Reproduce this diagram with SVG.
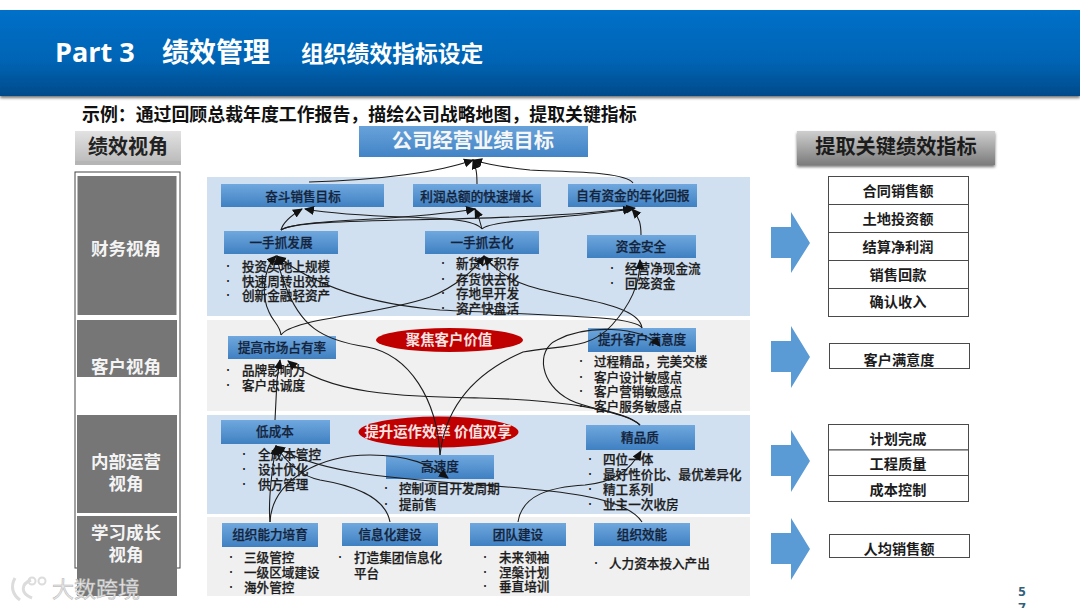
<svg xmlns="http://www.w3.org/2000/svg" width="1080" height="608" viewBox="0 0 1080 608">
<defs>
<linearGradient id="hdr" x1="0" y1="0" x2="0" y2="1"><stop offset="0" stop-color="#0070c9"/><stop offset=".6" stop-color="#0064b4"/><stop offset="1" stop-color="#004a8a"/></linearGradient>
<linearGradient id="nodeG" x1="0" y1="0" x2="0" y2="1"><stop offset="0" stop-color="#70a8de"/><stop offset="1" stop-color="#3f80c2"/></linearGradient>
<linearGradient id="topG" x1="0" y1="0" x2="0" y2="1"><stop offset="0" stop-color="#68a2da"/><stop offset="1" stop-color="#4284c6"/></linearGradient>
<linearGradient id="grayA" x1="0" y1="0" x2="0" y2="1"><stop offset="0" stop-color="#e2e2e2"/><stop offset="1" stop-color="#bdbdbd"/></linearGradient>
<linearGradient id="grayB" x1="0" y1="0" x2="0" y2="1"><stop offset="0" stop-color="#cfcfcf"/><stop offset="1" stop-color="#7b7b7b"/></linearGradient>
<filter id="sh" x="-5%" y="-10%" width="110%" height="125%"><feDropShadow dx="0" dy="2" stdDeviation="1.5" flood-color="#000" flood-opacity=".55"/></filter>
<marker id="ah" markerUnits="userSpaceOnUse" markerWidth="11" markerHeight="10" refX="9" refY="5" orient="auto"><path d="M0 .5L10 5L0 9.500Z" fill="#111"/></marker>
</defs>
<style>
text{font-family:"Noto Sans CJK SC","Liberation Sans",sans-serif}
.band1{fill:#d1e0f0}.band2{fill:#f0f0f0}
.n{fill:url(#nodeG)}
.lb{font-size:12.6px;font-weight:500;fill:#14233a;text-anchor:middle;stroke:#14233a;stroke-width:.25}
.li{font-size:12.6px;font-weight:500;fill:#1c1c1c;stroke:#1c1c1c;stroke-width:.25}
.bu{font-size:9px;fill:#111;text-anchor:middle}
.side{fill:#767676}
.st{font-size:17.5px;font-weight:700;fill:#f4f4f4;text-anchor:middle}
.el{fill:#c00000}
.et{font-size:14.400px;font-weight:700;fill:#fbe4e4;text-anchor:middle}
.cell{fill:#fff;stroke:#4a4a4a;stroke-width:1}
.kt{font-size:14.2px;font-weight:700;fill:#1c1c1c;text-anchor:middle}
.arr{fill:#5b9bd5}
.c{fill:none;stroke:#1d1d1d;stroke-width:1.1;marker-end:url(#ah)}
</style>
<rect width="1080" height="608" fill="#fff"/>
<rect id="header" x="0" y="10" width="1080" height="86" fill="url(#hdr)" filter="url(#sh)"/>
<text x="55" y="62" font-size="27" font-weight="700" fill="#fff" style="font-family:'Open Sans','Noto Sans',sans-serif">Part 3</text>
<text x="162" y="62" font-size="27" font-weight="700" fill="#fff">绩效管理</text>
<text x="301" y="62" font-size="22.800" font-weight="700" fill="#fff">组织绩效指标设定</text>
<text x="82" y="121" font-size="17.900" font-weight="700" fill="#111">示例：通过回顾总裁年度工作报告，描绘公司战略地图，提取关键指标</text>

<g id="bands">
<rect class="band1" x="207" y="177" width="543" height="139"/>
<rect class="band2" x="207" y="320" width="543" height="91"/>
<rect class="band1" x="207" y="415" width="543" height="99"/>
<rect class="band2" x="207" y="517" width="543" height="79"/>
</g>

<g id="perspective-title"><rect x="75" y="131" width="106" height="34" fill="#b5b5b5"/><rect x="75" y="131" width="106" height="30" fill="url(#grayA)"/><text x="128" y="154" font-size="20" font-weight="700" fill="#222" text-anchor="middle">绩效视角</text></g>
<rect x="75" y="172" width="105" height="396" fill="#fff" stroke="#444" stroke-width="1"/>
<g id="p-finance"><rect class="side" x="77.500" y="176" width="99" height="139"/><text class="st" x="126" y="255">财务视角</text></g>
<g id="p-customer"><rect class="side" x="77" y="320" width="100" height="57"/><text class="st" x="126" y="372.500">客户视角</text></g>
<g id="p-internal"><rect class="side" x="77" y="415" width="100" height="98"/><text class="st" x="126" y="468">内部运营</text><text class="st" x="126" y="490">视角</text></g>
<g id="p-learning"><rect class="side" x="77" y="516" width="100" height="80"/><text class="st" x="126" y="539">学习成长</text><text class="st" x="126" y="561">视角</text></g>

<g id="n-top"><rect x="359" y="126" width="229" height="31" fill="url(#topG)"/><text x="473" y="148" font-size="20.300" font-weight="700" fill="#f6f6f6" text-anchor="middle">公司经营业绩目标</text></g>
<g id="n1"><rect class="n" x="221" y="184" width="163" height="23"/><text class="lb" x="303" y="200.500">奋斗销售目标</text></g>
<g id="n2"><rect class="n" x="413" y="184" width="128" height="23"/><text class="lb" x="477" y="200.500">利润总额的快速增长</text></g>
<g id="n3"><rect class="n" x="568" y="184" width="129" height="23"/><text class="lb" x="633" y="199.500">自有资金的年化回报</text></g>
<g id="n4"><rect class="n" x="224" y="231" width="114" height="23"/><text class="lb" x="281" y="246.500">一手抓发展</text><text class="bu" x="228" y="269">•</text><text class="li" x="242" y="270.500">投资买地上规模</text><text class="bu" x="228" y="284">•</text><text class="li" x="242" y="285.500">快速周转出效益</text><text class="bu" x="228" y="298">•</text><text class="li" x="242" y="299.500">创新金融轻资产</text></g>
<g id="n5"><rect class="n" x="425" y="231" width="114" height="23"/><text class="lb" x="482" y="246.500">一手抓去化</text><text class="bu" x="443" y="266">•</text><text class="li" x="456" y="267.500">新货不积存</text><text class="bu" x="443" y="282">•</text><text class="li" x="456" y="283.500">存货快去化</text><text class="bu" x="443" y="296">•</text><text class="li" x="456" y="297.500">存地早开发</text><text class="bu" x="443" y="311">•</text><text class="li" x="456" y="312.500">资产快盘活</text></g>
<g id="n6"><rect class="n" x="587" y="235" width="109" height="23"/><text class="lb" x="641" y="250.500">资金安全</text><text class="bu" x="612" y="271">•</text><text class="li" x="625" y="272.500">经营净现金流</text><text class="bu" x="612" y="286">•</text><text class="li" x="625" y="287.500">回笼资金</text></g>
<g id="n7"><rect class="n" x="228" y="336" width="108" height="23"/><text class="lb" x="282" y="351.500">提高市场占有率</text><text class="bu" x="228" y="373">•</text><text class="li" x="242" y="374.500">品牌影响力</text><text class="bu" x="228" y="388">•</text><text class="li" x="242" y="389.500">客户忠诚度</text></g>
<g id="n8"><rect class="n" x="588" y="328" width="108" height="24"/><text class="lb" x="642" y="344">提升客户满意度</text><text class="bu" x="581" y="364">•</text><text class="li" x="594" y="365.500">过程精品，完美交楼</text><text class="bu" x="581" y="380">•</text><text class="li" x="594" y="381.500">客户设计敏感点</text><text class="bu" x="581" y="394">•</text><text class="li" x="594" y="395.500">客户营销敏感点</text><text class="bu" x="581" y="409">•</text><text class="li" x="594" y="410.500">客户服务敏感点</text></g>
<g id="n9"><rect class="n" x="221" y="420" width="109" height="24"/><text class="lb" x="275" y="436">低成本</text><text class="bu" x="244" y="457">•</text><text class="li" x="258" y="458.500">全成本管控</text><text class="bu" x="244" y="472">•</text><text class="li" x="258" y="473.500">设计优化</text><text class="bu" x="244" y="487">•</text><text class="li" x="258" y="488.500">供方管理</text></g>
<g id="n10"><rect class="n" x="386" y="455" width="108" height="24"/><text class="lb" x="440" y="471">高速度</text><text class="bu" x="386" y="491">•</text><text class="li" x="399" y="492.500">控制项目开发周期</text><text class="bu" x="386" y="507">•</text><text class="li" x="399" y="508.500">提前售</text></g>
<g id="n11"><rect class="n" x="586" y="425" width="109" height="25"/><text class="lb" x="640" y="441.500">精品质</text><text class="bu" x="590" y="462">•</text><text class="li" x="603" y="463.500">四位一体</text><text class="bu" x="590" y="477">•</text><text class="li" x="603" y="478.500">最好性价比、最优差异化</text><text class="bu" x="590" y="492">•</text><text class="li" x="603" y="493.500">精工系列</text><text class="bu" x="590" y="507">•</text><text class="li" x="603" y="508.500">业主一次收房</text></g>
<g id="n12"><rect class="n" x="222" y="523" width="96" height="24"/><text class="lb" x="270" y="539">组织能力培育</text><text class="bu" x="231" y="560">•</text><text class="li" x="244" y="561.500">三级管控</text><text class="bu" x="231" y="575">•</text><text class="li" x="244" y="576.500">一级区域建设</text><text class="bu" x="231" y="590">•</text><text class="li" x="244" y="591.500">海外管控</text></g>
<g id="n13"><rect class="n" x="342" y="523" width="96" height="23"/><text class="lb" x="390" y="538.500">信息化建设</text><text class="bu" x="340" y="560">•</text><text class="li" x="354" y="561.500">打造集团信息化</text><text class="li" x="354" y="578">平台</text></g>
<g id="n14"><rect class="n" x="470" y="523" width="96" height="23"/><text class="lb" x="518" y="538.500">团队建设</text><text class="bu" x="485" y="560">•</text><text class="li" x="499" y="561.500">未来领袖</text><text class="bu" x="485" y="575">•</text><text class="li" x="499" y="576.500">涅槃计划</text><text class="bu" x="485" y="589">•</text><text class="li" x="499" y="590.500">垂直培训</text></g>
<g id="n15"><rect class="n" x="594" y="523" width="96" height="23"/><text class="lb" x="642" y="538.500">组织效能</text><text class="bu" x="596" y="566">•</text><text class="li" x="609" y="567.500">人力资本投入产出</text></g>

<g id="e1"><ellipse class="el" cx="449.500" cy="340" rx="73.500" ry="12"/><text class="et" x="449" y="345">聚焦客户价值</text></g>
<g id="e2"><ellipse class="el" cx="438.500" cy="432" rx="80" ry="15.500"/><text class="et" x="438" y="437">提升运作效率 价值双享</text></g>

<g id="connectors">
<path class="c" d="M309 182C380 180 440 172 473 160"/>
<path class="c" d="M477 184C477 172 476 168 473 160"/>
<path class="c" d="M633 183C625 171 560 172 530 170C510 168 490 165 473 160"/>
<path class="c" d="M281 230C283 222 292 215 302 209"/>
<path class="c" d="M281 230C300 218 400 222 475 209"/>
<path class="c" d="M281 230C300 215 500 225 635 208"/>
<path class="c" d="M482 229C470 212 380 222 305 209"/>
<path class="c" d="M482 229C480 220 478 215 475 209"/>
<path class="c" d="M482 229C490 220 570 218 632 209"/>
<path class="c" d="M641 235C641 225 640 218 632 209"/>
<path class="c" d="M281 335C280 325 273 322 269 312C262 298 262 270 276 256"/>
<path class="c" d="M281 335C292 318 380 315 430 297C455 287 475 270 484 256"/>
<path class="c" d="M440 455C437 400 410 355 367 347C320 340 300 325 285 285C280 272 278 265 277 256"/>
<path class="c" d="M642 328C635 316 560 316 440 310C380 305 320 290 277 256"/>
<path class="c" d="M642 328C640 310 600 302 570 296C530 288 505 282 484 256"/>
<path class="c" d="M440 455C445 410 470 375 523 352C560 345 590 350 612 325C630 305 640 285 640 260"/>
<path class="c" d="M640 425C625 412 590 410 570 400C540 385 535 350 557 340C585 325 640 325 660 346"/>
<path class="c" d="M640 425C625 410 560 400 480 398C400 396 330 395 288 361"/>
<path class="c" d="M275 420L277 380L280 360"/>
<path class="c" d="M270 522C268 500 272 470 276 446"/>
<path class="c" d="M642 522C625 495 550 490 470 484C380 478 310 470 276 446"/>
<path class="c" d="M390 522C385 495 350 485 320 480C300 476 285 460 276 446"/>
<path class="c" d="M270 522C272 480 320 455 370 455C410 455 430 465 448 478"/>
<path class="c" d="M518 522C522 495 550 487 585 485C615 482 630 470 641 451"/>
</g>

<g id="key-title"><rect x="797" y="131" width="198" height="34" fill="url(#grayB)" filter="url(#sh)"/><text x="896" y="154" font-size="20.200" font-weight="700" fill="#1c1c1c" text-anchor="middle">提取关键绩效指标</text></g>
<polygon class="arr" points="771,227 791,227 791,212 810,243 791,273 791,258 771,258"/>
<polygon class="arr" points="771,341 791,341 791,326 810,357 791,388 791,372 771,372"/>
<polygon class="arr" points="771,445 791,445 791,430 810,461 791,492 791,476 771,476"/>
<polygon class="arr" points="771,533 791,533 791,518 810,549 791,580 791,564 771,564"/>

<g id="k1"><rect class="cell" x="828.500" y="176.500" width="140" height="28"/><text class="kt" x="898" y="195.500">合同销售额</text></g>
<g id="k2"><rect class="cell" x="828.500" y="204.500" width="140" height="28"/><text class="kt" x="898" y="223.500">土地投资额</text></g>
<g id="k3"><rect class="cell" x="828.500" y="232.500" width="140" height="28"/><text class="kt" x="898" y="251.500">结算净利润</text></g>
<g id="k4"><rect class="cell" x="828.500" y="260.500" width="140" height="28"/><text class="kt" x="898" y="279.500">销售回款</text></g>
<g id="k5"><rect class="cell" x="828.500" y="288.500" width="140" height="28"/><text class="kt" x="898" y="307">确认收入</text></g>
<g id="k6"><rect class="cell" x="829.500" y="343.500" width="140" height="25"/><text class="kt" x="899" y="365">客户满意度</text></g>
<g id="k7"><rect class="cell" x="828.500" y="424.500" width="140" height="25.500"/><text class="kt" x="898" y="444">计划完成</text></g>
<g id="k8"><rect class="cell" x="828.500" y="450" width="140" height="25.500"/><text class="kt" x="898" y="469">工程质量</text></g>
<g id="k9"><rect class="cell" x="828.500" y="475.500" width="140" height="26"/><text class="kt" x="898" y="495">成本控制</text></g>
<g id="k10"><rect class="cell" x="829.500" y="534.500" width="140" height="23"/><text class="kt" x="899" y="554">人均销售额</text></g>

<g id="watermark">
<g fill="none" stroke="#dcdcdc" stroke-width="3"><path d="M15 578C10 587 13 595 20 600"/><path d="M31 580C21 584 20 593 32 598"/><circle cx="32" cy="581" r="3.500" stroke-width="2"/><circle cx="42" cy="581" r="3.500" stroke-width="2"/></g>
<text x="52" y="597" font-size="22" fill="#e6e6e6" stroke="#b4b4b4" stroke-width=".5">大数跨境</text>
</g>
<text x="1022" y="596" font-size="13" font-weight="700" fill="#31607a" text-anchor="middle" style="font-family:'Open Sans',sans-serif">5</text>
<text x="1022" y="612" font-size="13" font-weight="700" fill="#31607a" text-anchor="middle" style="font-family:'Open Sans',sans-serif">7</text>
</svg>
